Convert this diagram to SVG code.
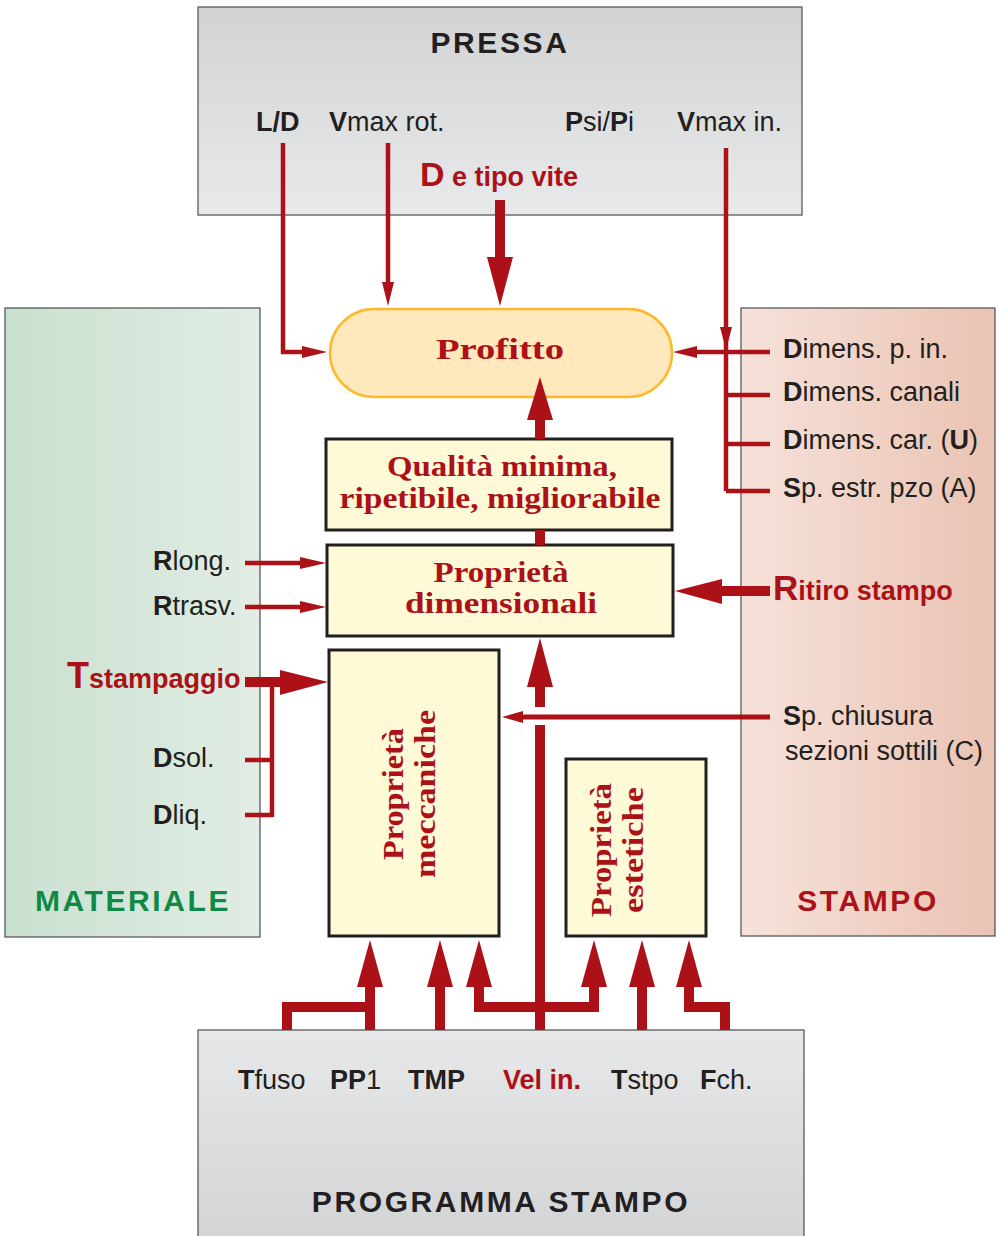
<svg xmlns="http://www.w3.org/2000/svg" width="998" height="1236" viewBox="0 0 998 1236">
<defs>
<linearGradient id="gPressa" x1="0" y1="0" x2="0" y2="1"><stop offset="0" stop-color="#d2d3d5"/><stop offset="1" stop-color="#e8e9ea"/></linearGradient>
<linearGradient id="gProg" x1="0" y1="0" x2="0" y2="1"><stop offset="0" stop-color="#e7e8e9"/><stop offset="1" stop-color="#d3d4d6"/></linearGradient>
<linearGradient id="gMat" x1="0" y1="0" x2="1" y2="0"><stop offset="0" stop-color="#c8e0cf"/><stop offset="1" stop-color="#e2ede4"/></linearGradient>
<linearGradient id="gSta" x1="0" y1="0" x2="1" y2="0"><stop offset="0" stop-color="#f6e2da"/><stop offset="1" stop-color="#eac3b3"/></linearGradient>
<style>
.area{stroke:#58595b;stroke-width:1.3}
.box{fill:#fef9d6;stroke:#231f20;stroke-width:3}
.sans{font-family:"Liberation Sans",Arial,sans-serif;font-size:27px;fill:#231f20}
.b{font-weight:bold}
.red{fill:#ac1118}
.title{font-family:"Liberation Sans",Arial,sans-serif;font-size:30px;font-weight:bold;letter-spacing:2.6px;text-anchor:middle}
.serif{font-family:"Liberation Serif","Times New Roman",serif;font-weight:bold;font-size:29px;fill:#ac1118;text-anchor:middle}
.thin{fill:none;stroke:#ac1118;stroke-width:4.5}
.mid{fill:none;stroke:#ac1118;stroke-width:5}
.thick{fill:none;stroke:#ac1118;stroke-width:10;stroke-linejoin:miter}
.head{fill:#ac1118}
</style>
</defs>
<rect width="998" height="1236" fill="#ffffff"/>

<g id="pressa">
<rect class="area" x="198" y="7" width="604" height="208" fill="url(#gPressa)"/>
<text class="title" x="500" y="53" fill="#231f20">PRESSA</text>
<text class="sans b" x="256" y="131">L/D</text>
<text class="sans" x="329" y="131"><tspan class="b">V</tspan>max rot.</text>
<text class="sans" x="565" y="131"><tspan class="b">P</tspan>si/<tspan class="b">P</tspan>i</text>
<text class="sans" x="677" y="131"><tspan class="b">V</tspan>max in.</text>
<text class="sans b red" x="420" y="186"><tspan font-size="34">D</tspan> e tipo vite</text>
</g>

<g id="materiale">
<rect class="area" x="5" y="308" width="255" height="629" fill="url(#gMat)"/>
<text class="sans" x="153" y="570"><tspan class="b">R</tspan>long.</text>
<text class="sans" x="153" y="615"><tspan class="b">R</tspan>trasv.</text>
<text class="sans b red" x="67" y="688" font-size="25.5"><tspan font-size="36">T</tspan>stampaggio</text>
<text class="sans" x="153" y="767"><tspan class="b">D</tspan>sol.</text>
<text class="sans" x="153" y="824"><tspan class="b">D</tspan>liq.</text>
<text class="title" x="133" y="911" fill="#0f8a45">MATERIALE</text>
</g>

<g id="stampo">
<rect class="area" x="741" y="308" width="254" height="628" fill="url(#gSta)"/>
<text class="sans" x="783" y="358"><tspan class="b">D</tspan>imens. p. in.</text>
<text class="sans" x="783" y="401"><tspan class="b">D</tspan>imens. canali</text>
<text class="sans" x="783" y="449"><tspan class="b">D</tspan>imens. car. (<tspan class="b">U</tspan>)</text>
<text class="sans" x="783" y="497"><tspan class="b">S</tspan>p. estr. pzo (A)</text>
<text class="sans b red" x="773" y="600" font-size="26"><tspan font-size="35">R</tspan>itiro stampo</text>
<text class="sans" x="783" y="725"><tspan class="b">S</tspan>p. chiusura</text>
<text class="sans" x="785" y="760">sezioni sottili (C)</text>
<text class="title" x="868" y="911" fill="#ac1118">STAMPO</text>
</g>

<g id="programma">
<rect class="area" x="198" y="1030" width="606" height="210" fill="url(#gProg)"/>
<text class="sans" x="238" y="1089"><tspan class="b">T</tspan>fuso</text>
<text class="sans" x="330" y="1089"><tspan class="b">PP</tspan>1</text>
<text class="sans b" x="408" y="1089">TMP</text>
<text class="sans b red" x="503" y="1089">Vel in.</text>
<text class="sans" x="611" y="1089"><tspan class="b">T</tspan>stpo</text>
<text class="sans" x="700" y="1089"><tspan class="b">F</tspan>ch.</text>
<text class="title" x="501" y="1212" fill="#231f20">PROGRAMMA STAMPO</text>
</g>

<g id="profitto">
<rect x="330" y="309" width="342" height="88" rx="44" ry="44" fill="#fee8bc" stroke="#fbb92b" stroke-width="2.5"/>
<text class="serif" x="500" y="359" font-size="38" textLength="128" lengthAdjust="spacingAndGlyphs">Profitto</text>
</g>

<g id="qualita">
<rect class="box" x="326" y="439" width="346" height="91"/>
<text class="serif" x="502" y="476" textLength="230" lengthAdjust="spacingAndGlyphs">Qualità minima,</text>
<text class="serif" x="500" y="508" textLength="321" lengthAdjust="spacingAndGlyphs">ripetibile, migliorabile</text>
</g>

<g id="dimensionali">
<rect class="box" x="327" y="545" width="346" height="91"/>
<text class="serif" x="501" y="582" textLength="135" lengthAdjust="spacingAndGlyphs">Proprietà</text>
<text class="serif" x="501" y="613" textLength="192" lengthAdjust="spacingAndGlyphs">dimensionali</text>
</g>

<g id="meccaniche">
<rect class="box" x="329" y="650" width="170" height="286"/>
<text class="serif" transform="translate(403,794) rotate(-90)" font-size="31" textLength="132" lengthAdjust="spacingAndGlyphs">Proprietà</text>
<text class="serif" transform="translate(435,794) rotate(-90)" font-size="31" textLength="168" lengthAdjust="spacingAndGlyphs">meccaniche</text>
</g>

<g id="estetiche">
<rect class="box" x="566" y="759" width="140" height="177"/>
<text class="serif" transform="translate(611,850) rotate(-90)" font-size="31" textLength="134" lengthAdjust="spacingAndGlyphs">Proprietà</text>
<text class="serif" transform="translate(643,850) rotate(-90)" font-size="31" textLength="126" lengthAdjust="spacingAndGlyphs">estetiche</text>
</g>

<g id="connectors">
<path class="thin" d="M283,143 V352 H304"/>
<polygon class="head" points="302,346 302,358 327,352"/>
<path class="thin" d="M388,143 V285"/>
<polygon class="head" points="382,282 394,282 388,306"/>
<path class="thick" d="M500,200 V262" stroke-width="9"/>
<polygon class="head" points="487,257 513,257 500,306"/>
<path class="thin" d="M726,148 V491"/>
<polygon class="head" points="720,327 732,327 726,350"/>
<path class="thin" d="M770,352 H695"/>
<polygon class="head" points="697,346 697,358 673,352"/>
<path class="thin" d="M726,395 H770 M726,444 H770 M726,491 H770"/>
<path class="thick" d="M770,591 H718" stroke-width="9"/>
<polygon class="head" points="722,579 722,604 675,591"/>
<path class="mid" d="M770,717 H520"/>
<polygon class="head" points="523,711 523,723 502,717"/>
<path class="thin" d="M245,563 H302"/>
<polygon class="head" points="300,557 300,569 326,563"/>
<path class="thin" d="M245,607 H302"/>
<polygon class="head" points="300,601 300,613 326,607"/>
<path class="thick" d="M245,682 H285" stroke-width="9"/>
<polygon class="head" points="280,670 280,695 328,682"/>
<path class="thin" d="M245,760 H272 M245,815 H272 M272,682 V817"/>
<path class="thick" d="M540,439 V416 M540,530 V545"/>
<polygon class="head" points="527,420 553,420 540,377"/>
<path class="thick" d="M540,1030 V725 M540,707 V682"/>
<polygon class="head" points="527,687 553,687 540,638"/>
<path class="thick" d="M287,1030 V1007 H375"/>
<path class="thick" d="M370,1030 V985"/>
<polygon class="head" points="357,987 383,987 370,940"/>
<path class="thick" d="M440,1030 V985"/>
<polygon class="head" points="427,987 453,987 440,940"/>
<path class="thick" d="M479,985 V1007 H594 V985"/>
<polygon class="head" points="466,987 492,987 479,940"/>
<polygon class="head" points="581,987 607,987 594,940"/>
<path class="thick" d="M642,1030 V985"/>
<polygon class="head" points="629,987 655,987 642,940"/>
<path class="thick" d="M689,985 V1007 H725 V1030"/>
<polygon class="head" points="676,987 702,987 689,940"/>
</g>
</svg>
